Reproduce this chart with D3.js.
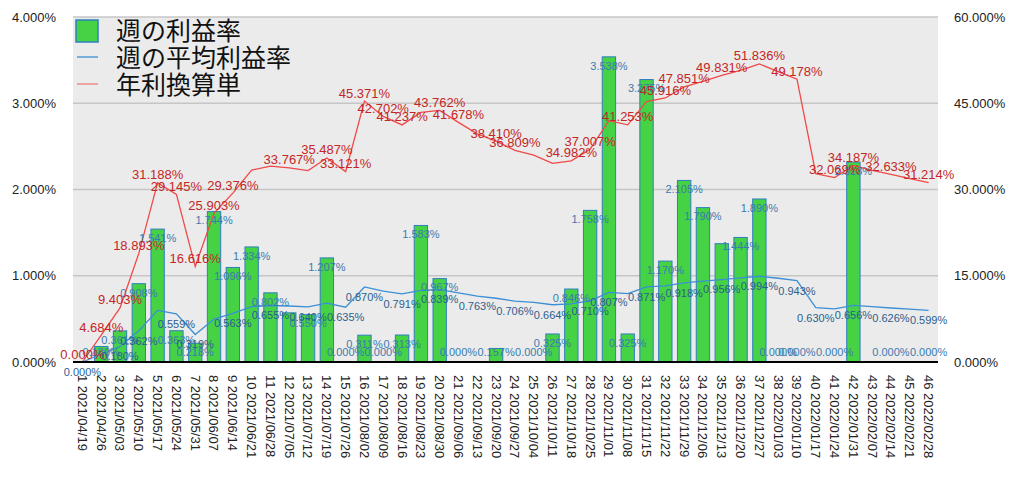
<!DOCTYPE html>
<meta charset="utf-8">
<script src="https://d3js.org/d3.v7.min.js"></script>
<style>
  body { margin: 0; background: #fff; }
  text { font-family: "Liberation Sans", Arial, sans-serif; }
</style>
<div id="chart"></div>
<script>

// week labels (x axis)
var weeks = [
  "1 2021/04/19", "2 2021/04/26", "3 2021/05/03", "4 2021/05/10", "5 2021/05/17",
  "6 2021/05/24", "7 2021/05/31", "8 2021/06/07", "9 2021/06/14", "10 2021/06/21",
  "11 2021/06/28", "12 2021/07/05", "13 2021/07/12", "14 2021/07/19", "15 2021/07/26",
  "16 2021/08/02", "17 2021/08/09", "18 2021/08/16", "19 2021/08/23", "20 2021/08/30",
  "21 2021/09/06", "22 2021/09/13", "23 2021/09/20", "24 2021/09/27", "25 2021/10/04",
  "26 2021/10/11", "27 2021/10/18", "28 2021/10/25", "29 2021/11/01", "30 2021/11/08",
  "31 2021/11/15", "32 2021/11/22", "33 2021/11/29", "34 2021/12/06", "35 2021/12/13",
  "36 2021/12/20", "37 2021/12/27", "38 2022/01/03", "39 2022/01/10", "40 2022/01/17",
  "41 2022/01/24", "42 2022/01/31", "43 2022/02/07", "44 2022/02/14", "45 2022/02/21",
  "46 2022/02/28"
];

// 週の利益率 (%)
var weekly = [
  0.000, 0.180, 0.361, 0.908, 1.541, 0.363, 0.218, 1.744, 1.096, 1.334,
  0.802, 0.570, 0.550, 1.207, 0.000, 0.311, 0.000, 0.313, 1.583, 0.967,
  0.000, 0.000, 0.157, 0.000, 0.000, 0.325, 0.846, 1.758, 3.538, 0.325,
  3.275, 1.170, 2.105, 1.790, 1.372, 1.444, 1.890, 0.000, 0.000, 0.000,
  0.000, 2.318, 0.000, 0.000, 0.000, 0.000
];

// 週の平均利益率 (%)
var avgRate = [
  0.000, 0.090, 0.180, 0.362, 0.598, 0.559, 0.319, 0.498, 0.563, 0.642,
  0.655, 0.649, 0.640, 0.682, 0.635, 0.870, 0.821, 0.791, 0.830, 0.839,
  0.801, 0.763, 0.739, 0.706, 0.692, 0.664, 0.673, 0.710, 0.807, 0.793,
  0.871, 0.883, 0.918, 0.938, 0.956, 0.975, 0.994, 0.971, 0.943, 0.630,
  0.617, 0.656, 0.641, 0.626, 0.613, 0.599
];

// 年利換算単 (%)
var annual = [
  0.000, 4.684, 9.403, 18.893, 31.188, 29.145, 16.616, 25.903, 29.376, 33.380,
  34.060, 33.767, 33.280, 35.487, 33.121, 45.371, 42.702, 41.237, 43.400, 43.762,
  41.678, 39.680, 38.410, 36.809, 35.980, 34.530, 34.982, 37.007, 41.960, 41.253,
  45.290, 45.916, 47.851, 48.800, 49.831, 50.700, 51.836, 50.500, 49.178, 32.760,
  32.069, 34.187, 33.340, 32.633, 31.900, 31.214
];

var leftTicks = [0, 1, 2, 3, 4];
var rightTicks = [0, 15, 30, 45, 60];

// weeks whose value label is covered by a neighbour in the original
var hideBarLabel = [1, 12, 22, 24, 35, 40, 43, 45];
var hideAvgLabel = [2, 5, 8, 10, 12, 14, 17, 19, 21, 23, 25, 27, 30, 32, 34, 36, 38, 41, 43, 45];
var hideAnnualLabel = [10, 11, 13, 19, 22, 25, 26, 29, 31, 34, 36, 38, 40, 43, 45];

var W = 1024, H = 479;
var plotLeft = 73, plotRight = 938, plotTop = 17, plotBase = 362;

var svg = d3.select("#chart").append("svg")
  .attr("width", W).attr("height", H);

var idx = d3.range(weeks.length);

var x = d3.scaleBand().domain(idx).range([plotLeft, plotRight])
  .paddingInner(0.29).paddingOuter(0.145);
var yL = d3.scaleLinear().domain([0, 4]).range([plotBase, plotTop]);
var yR = d3.scaleLinear().domain([0, 60]).range([plotBase, plotTop]);
var cx = function(i) { return x(i) + x.bandwidth() / 2; };
var pct = function(v) { return d3.format(".3f")(v) + "%"; };

// plot background
svg.append("rect")
  .attr("x", plotLeft).attr("y", plotTop)
  .attr("width", plotRight - plotLeft).attr("height", plotBase - plotTop)
  .attr("fill", "#ebebeb");

// grid
svg.append("g").selectAll("line")
  .data(leftTicks.slice(1))
  .enter().append("line")
    .attr("x1", plotLeft).attr("x2", plotRight)
    .attr("y1", function(d) { return yL(d); })
    .attr("y2", function(d) { return yL(d); })
    .attr("stroke", "#c6c6c6").attr("stroke-width", 1.5);

// left axis
var gl = svg.append("g")
  .attr("transform", "translate(" + plotLeft + ",0)")
  .call(d3.axisLeft(yL).tickValues(leftTicks).tickFormat(pct).tickSize(0).tickPadding(17));
gl.select(".domain").remove();
gl.selectAll("text").style("font-size", "13px").attr("fill", "#222");

// right axis
var gr = svg.append("g")
  .attr("transform", "translate(" + plotRight + ",0)")
  .call(d3.axisRight(yR).tickValues(rightTicks).tickFormat(pct).tickSize(0).tickPadding(16));
gr.select(".domain").remove();
gr.selectAll("text").style("font-size", "13px").attr("fill", "#222");

// bars
svg.append("g").selectAll("rect")
  .data(idx)
  .enter().append("rect")
    .attr("x", function(i) { return x(i); })
    .attr("width", x.bandwidth())
    .attr("y", function(i) { return yL(Math.max(0, weekly[i])); })
    .attr("height", function(i) { return plotBase - yL(Math.max(0, weekly[i])); })
    .attr("fill", "#45d245")
    .attr("stroke", "#2f7fbf").attr("stroke-width", 1);

// lines
var avgLine = d3.line().x(function(i) { return cx(i); }).y(function(i) { return yL(avgRate[i]); });
var annLine = d3.line().x(function(i) { return cx(i); }).y(function(i) { return yR(annual[i]); });

svg.append("path").datum(idx)
  .attr("d", avgLine).attr("fill", "none")
  .attr("stroke", "#3b8fd6").attr("stroke-width", 1.3);
svg.append("path").datum(idx)
  .attr("d", annLine).attr("fill", "none")
  .attr("stroke", "#f24848").attr("stroke-width", 1.3);

// baseline
svg.append("line")
  .attr("x1", plotLeft).attr("x2", plotRight).attr("y1", plotBase).attr("y2", plotBase)
  .attr("stroke", "#000").attr("stroke-width", 2);

// x axis labels
var gx = svg.append("g")
  .attr("transform", "translate(0," + plotBase + ")")
  .call(d3.axisBottom(x).tickSize(0).tickFormat(function(i) { return weeks[i]; }));
gx.select(".domain").remove();
gx.selectAll("text")
  .attr("x", 0).attr("y", 0).attr("dy", "0.35em")
  .attr("transform", "translate(0,13) rotate(90)")
  .style("text-anchor", "start")
  .style("font-size", "13px")
  .attr("fill", "#222");

// value labels
svg.append("g").selectAll("text")
  .data(idx.filter(function(i) { return hideBarLabel.indexOf(i + 1) < 0; }))
  .enter().append("text")
    .attr("x", function(i) { return cx(i); })
    .attr("y", function(i) { return Math.min(yL(Math.max(0, weekly[i])) + 9, plotBase - 10); })
    .attr("dy", "0.35em")
    .attr("text-anchor", "middle")
    .style("font-size", "11px")
    .attr("fill", "#3a7bb0")
    .text(function(i) { return pct(weekly[i]); });

svg.append("g").selectAll("text")
  .data(idx.filter(function(i) { return hideAvgLabel.indexOf(i + 1) < 0; }))
  .enter().append("text")
    .attr("x", function(i) { return cx(i); })
    .attr("y", function(i) { return yL(avgRate[i]) + 10; })
    .attr("dy", "0.35em")
    .attr("text-anchor", "middle")
    .style("font-size", "11px")
    .attr("fill", "#2b5f8e")
    .text(function(i) { return pct(avgRate[i]); });

svg.append("g").selectAll("text")
  .data(idx.filter(function(i) { return hideAnnualLabel.indexOf(i + 1) < 0; }))
  .enter().append("text")
    .attr("x", function(i) { return cx(i); })
    .attr("y", function(i) { return yR(annual[i]) - 8; })
    .attr("dy", "0.35em")
    .attr("text-anchor", "middle")
    .style("font-size", "13px")
    .attr("fill", "#c42626")
    .text(function(i) { return pct(annual[i]); });

// legend
var legend = svg.append("g");
legend.append("rect")
  .attr("x", 76).attr("y", 20).attr("width", 22).attr("height", 22)
  .attr("fill", "#45d245").attr("stroke", "#2f7fbf").attr("stroke-width", 1.5);
legend.append("line")
  .attr("x1", 77).attr("x2", 98).attr("y1", 57).attr("y2", 57)
  .attr("stroke", "#3b8fd6").attr("stroke-width", 1.3);
legend.append("line")
  .attr("x1", 77).attr("x2", 98).attr("y1", 84).attr("y2", 84)
  .attr("stroke", "#f27a7a").attr("stroke-width", 1.3);
legend.selectAll(".lt")
  .data(["週の利益率", "週の平均利益率", "年利換算単"])
  .enter().append("text")
    .attr("class", "lt")
    .attr("x", 116)
    .attr("y", function(d, i) { return 40 + i * 27; })
    .style("font-family", "'Noto Sans CJK JP', sans-serif")
    .style("font-size", "25px")
    .attr("fill", "#111")
    .text(function(d) { return d; });

</script>
